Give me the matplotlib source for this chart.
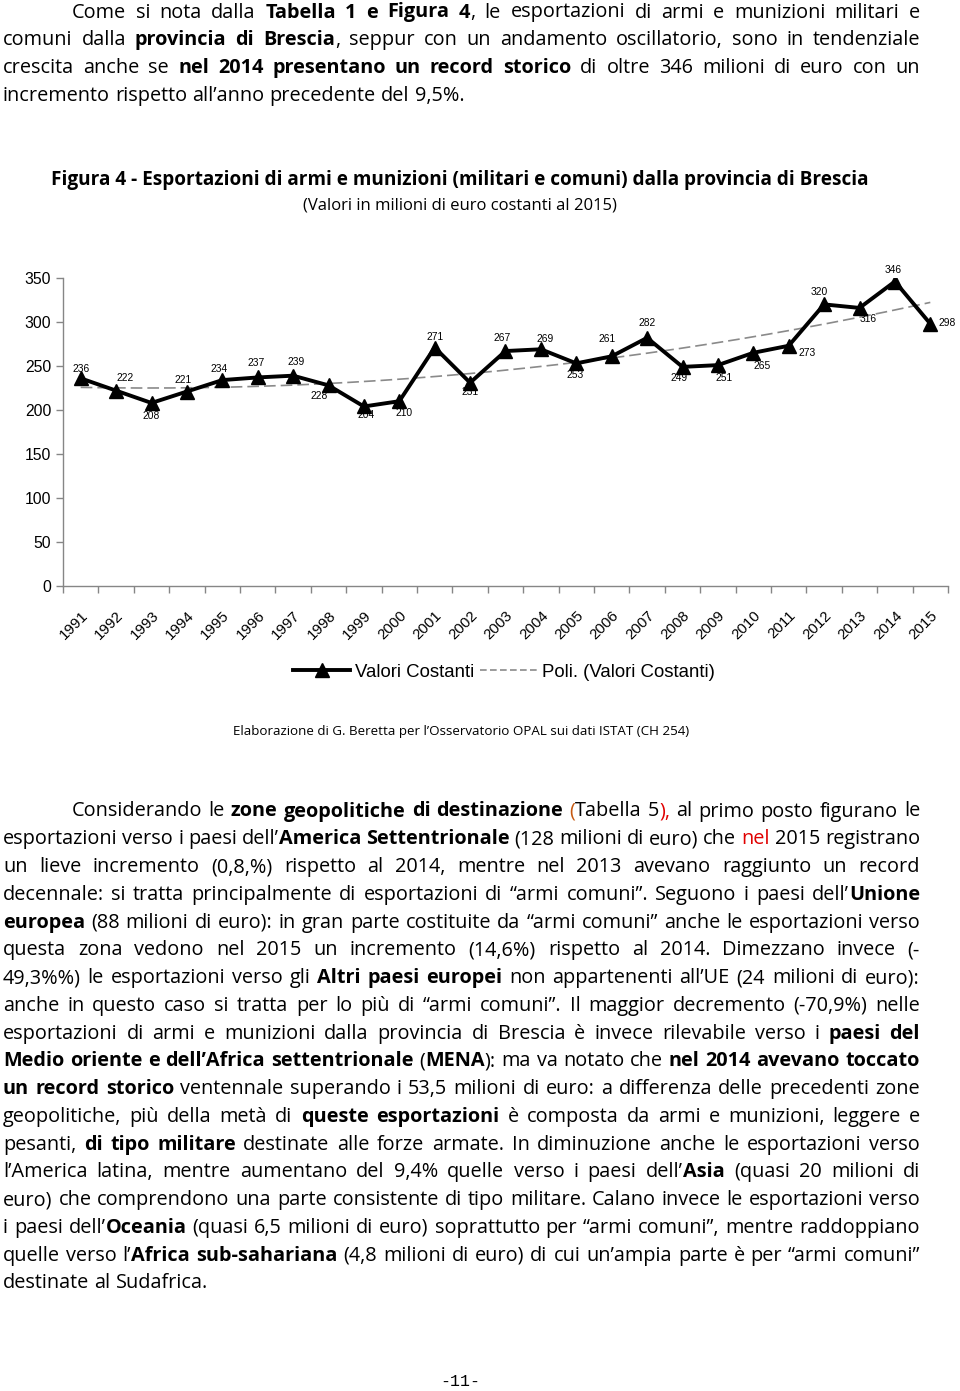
import matplotlib
matplotlib.use('Agg')
import matplotlib.pyplot as plt
from matplotlib.font_manager import FontProperties
from matplotlib.lines import Line2D
import numpy as np

# --- dati del grafico -------------------------------------------------------
anni = [str(a) for a in range(1991, 2016)]
valori = [236, 222, 208, 221, 234, 237, 239, 228, 204, 210, 271, 231, 267,
          269, 253, 261, 282, 249, 251, 265, 273, 320, 316, 346, 298]
y_ticks = [0, 50, 100, 150, 200, 250, 300, 350]

# spostamento delle etichette dati (pixel, y verso l'alto)
label_off = [(0, 9), (9, 13), (0, -13), (-4, 12), (-3, 11), (-2, 14), (3, 14),
             (-9, -11), (2, -9), (5, -12), (0, 11), (0, -9), (-3, 13), (4, 10),
             (-1, -12), (-5, 17), (0, 15), (-3, -11), (6, -13), (9, -13),
             (18, -7), (-5, 12), (9, -11), (-2, 12), (17, 1)]

titolo = 'Figura 4 - Esportazioni di armi e munizioni (militari e comuni) dalla provincia di Brescia'
sottotitolo = '(Valori in milioni di euro costanti al 2015)'
fonte = 'Elaborazione di G. Beretta per l’Osservatorio OPAL sui dati ISTAT (CH 254)'

# * = grassetto, ^ = rosso, ~ = arancio
par1 = [
    'Come si nota dalla *Tabella 1 e Figura 4*, le esportazioni di armi e munizioni militari e',
    'comuni dalla *provincia di Brescia*, seppur con un andamento oscillatorio, sono in tendenziale',
    'crescita anche se *nel 2014 presentano un record storico* di oltre 346 milioni di euro con un',
    'incremento rispetto all’anno precedente del 9,5%.',
]
par2 = [
    'Considerando le *zone geopolitiche di destinazione* ~(~Tabella 5^),^ al primo posto figurano le',
    'esportazioni verso i paesi dell’*America Settentrionale* (128 milioni di euro) che ^nel^ 2015 registrano',
    'un lieve incremento (0,8,%) rispetto al 2014, mentre nel 2013 avevano raggiunto un record',
    'decennale: si tratta principalmente di esportazioni di “armi comuni”. Seguono i paesi dell’*Unione*',
    '*europea* (88 milioni di euro): in gran parte costituite da “armi comuni” anche le esportazioni verso',
    'questa zona vedono nel 2015 un incremento (14,6%) rispetto al 2014. Dimezzano invece (-',
    '49,3%%) le esportazioni verso gli *Altri paesi europei* non appartenenti all’UE (24 milioni di euro):',
    'anche in questo caso si tratta per lo più di “armi comuni”. Il maggior decremento (-70,9%) nelle',
    'esportazioni di armi e munizioni dalla provincia di Brescia è invece rilevabile verso i *paesi del*',
    '*Medio oriente e dell’Africa settentrionale* (*MENA*): ma va notato che *nel 2014 avevano toccato*',
    '*un record storico* ventennale superando i 53,5 milioni di euro: a differenza delle precedenti zone',
    'geopolitiche, più della metà di *queste esportazioni* è composta da armi e munizioni, leggere e',
    'pesanti, *di tipo militare* destinate alle forze armate. In diminuzione anche le esportazioni verso',
    'l’America latina, mentre aumentano del 9,4% quelle verso i paesi dell’*Asia* (quasi 20 milioni di',
    'euro) che comprendono una parte consistente di tipo militare. Calano invece le esportazioni verso',
    'i paesi dell’*Oceania* (quasi 6,5 milioni di euro) soprattutto per “armi comuni”, mentre raddoppiano',
    'quelle verso l’*Africa sub-sahariana* (4,8 milioni di euro) di cui un’ampia parte è per “armi comuni”',
    'destinate al Sudafrica.',
]

W, H = 960, 1391
fig = plt.figure(figsize=(W / 100, H / 100), dpi=100)
renderer = fig.canvas.get_renderer()

BODY = 'Open Sans'
CHART = 'Liberation Sans'
body_size = 14.3
RED = '#e00000'
ORANGE = '#c65911'


def fp(size, bold=False, family=BODY):
    return FontProperties(family=family, size=size, weight='bold' if bold else 'normal')


def text_w(s, prop):
    return renderer.get_text_width_height_descent(s, prop, ismath=False)[0]


def parse(line):
    bold, color = False, 'black'
    words = []
    for raw in line.split(' '):
        segs, buf = [], ''
        for ch in raw:
            if ch in '*^~':
                if buf:
                    segs.append((buf, bold, color))
                    buf = ''
                if ch == '*':
                    bold = not bold
                elif ch == '^':
                    color = 'black' if color == RED else RED
                else:
                    color = 'black' if color == ORANGE else ORANGE
            else:
                buf += ch
        if buf:
            segs.append((buf, bold, color))
        words.append(segs)
    return words


def draw_line(line, y, x0, x1, justify):
    words = parse(line)
    widths = [[text_w(s, fp(body_size, b)) for s, b, c in w] for w in words]
    total = sum(sum(ws) for ws in widths)
    if justify and len(words) > 1:
        gap = (x1 - x0 - total) / (len(words) - 1)
    else:
        gap = text_w('a a', fp(body_size)) - text_w('aa', fp(body_size))
    x = x0
    for w, ws in zip(words, widths):
        for (s, b, c), sw in zip(w, ws):
            fig.text(x / W, 1 - y / H, s, fontproperties=fp(body_size, b), color=c,
                     ha='left', va='baseline')
            x += sw
        x += gap


def draw_par(lines, y0, step=27.76, left=3, right=920, indent=69):
    for i, ln in enumerate(lines):
        x0 = left + (indent if i == 0 else 0)
        draw_line(ln, y0 + i * step, x0, right, i < len(lines) - 1)


def fit_text(s, xc, yc, width, bold=False, family=BODY):
    size = 12 * width / text_w(s, fp(12, bold, family))
    fig.text(xc / W, 1 - yc / H, s, fontproperties=fp(size, bold, family),
             ha='center', va='center')


draw_par(par1, 17.5)
draw_par(par2, 816.5)

fit_text(titolo, 460, 180, 816, bold=True)
fit_text(sottotitolo, 460, 205, 314)
fit_text(fonte, 461, 731, 454)
fig.text(460 / W, 1 - 1382 / H, '-11-', family='Liberation Mono', fontsize=12,
         ha='center', va='center')

# --- grafico ----------------------------------------------------------------
ax = fig.add_axes([63 / W, 1 - 586 / H, (948 - 63) / W, (586 - 278) / H])
x = np.arange(len(valori))

coef = np.polyfit(x, valori, 2)
xs = np.linspace(0, len(valori) - 1, 200)
ax.plot(xs, np.polyval(coef, xs), color='#8a8a8a', lw=1.2, dashes=(7, 3))
ax.plot(x, valori, color='black', lw=2.8, marker='^', ms=10, zorder=3)

for xi, v, (dx, dy) in zip(x, valori, label_off):
    ax.annotate(str(v), (xi, v), xytext=(dx, dy), textcoords='offset pixels',
                ha='center', va='center', fontsize=7.4, family=CHART,
                annotation_clip=False)

ax.set_xlim(-0.5, len(valori) - 0.5)
ax.set_ylim(0, 350)
ax.set_yticks(y_ticks)
ax.set_xticks(x)
ax.set_xticklabels(anni, rotation=45, ha='right', va='top', rotation_mode='anchor',
                   family=CHART, fontsize=10.8)
ax.set_xticks(np.arange(len(valori) + 1) - 0.5, minor=True)
ax.tick_params(axis='x', which='major', length=0, pad=16)
ax.tick_params(axis='x', which='minor', length=5, color='#868686', width=1)
ax.tick_params(axis='y', length=5, color='#868686', width=1, pad=3.5)
for lab in ax.get_yticklabels():
    lab.set_family(CHART)
    lab.set_fontsize(11.3)
for side in ['top', 'right']:
    ax.spines[side].set_visible(False)
for side in ['left', 'bottom']:
    ax.spines[side].set_color('#868686')
    ax.spines[side].set_linewidth(1)

handles = [Line2D([], [], color='black', lw=2.8, marker='^', ms=10),
           Line2D([], [], color='#8a8a8a', lw=1.2, dashes=(4, 2))]
fig.legend(handles, ['Valori Costanti', 'Poli. (Valori Costanti)'], loc='center',
           bbox_to_anchor=(504 / W, 1 - 672 / H), ncol=2, frameon=False,
           handlelength=3.1, handletextpad=0.25, columnspacing=0.3,
           prop=FontProperties(family=CHART, size=13.4))

fig.savefig('out.png', dpi=100)
